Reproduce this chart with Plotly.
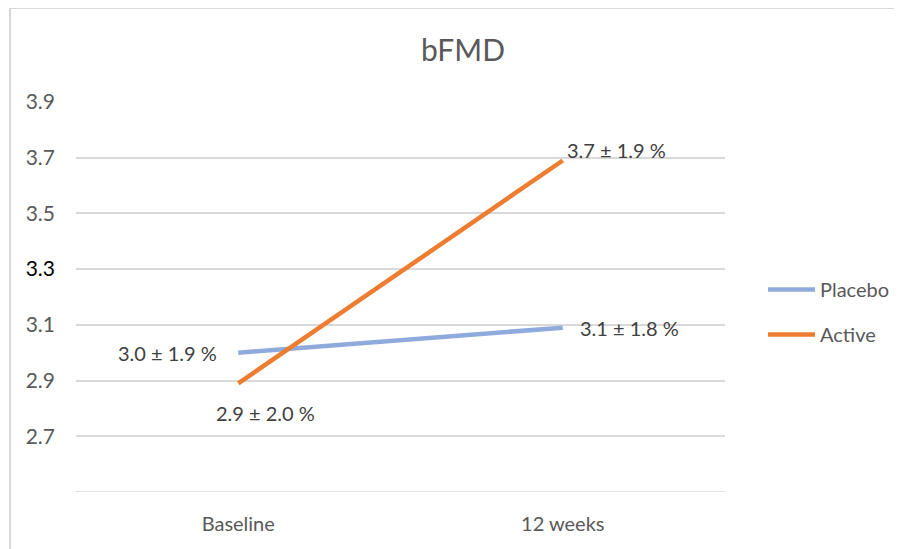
import plotly.graph_objects as go

categories = ["Baseline", "12 weeks"]
placebo = [3.0, 3.09]
active = [2.89, 3.69]
placebo_labels = ["3.0 ± 1.9 %", "3.1 ± 1.8 %"]
active_labels = ["2.9 ± 2.0 %", "3.7 ± 1.9 %"]
ytick_vals = [2.7, 2.9, 3.1, 3.3, 3.5, 3.7, 3.9]
ytick_text = ["2.7", "2.9", "3.1", "<span style='color:#000000'>3.3</span>", "3.5", "3.7", "3.9"]

FONT = "Lato"
GRAY = "#595959"
OFF = 8  # page body margin

PL, PR, PT, PB = 76, 725, 102, 492
W, H = 902, 549
pw, ph = PR - PL, PB - PT

def px(xp):
    return (xp - PL) / pw

def py(yp):
    return (PB - yp) / ph

fig = go.Figure()
fig.add_trace(go.Scatter(x=categories, y=placebo, mode="lines", name="Placebo",
                         line=dict(color="#8faadc", width=4.5), legendgroup="a"))
fig.add_trace(go.Scatter(x=categories, y=active, mode="lines", name="Active",
                         line=dict(color="#ed7d31", width=4.5), legendgroup="b"))

ann = []
ann.append(dict(x=categories[0], y=placebo[0], text=placebo_labels[0], xanchor="right", yanchor="middle", xshift=-19, yshift=0))
ann.append(dict(x=categories[1], y=placebo[1], text=placebo_labels[1], xanchor="left", yanchor="middle", xshift=15, yshift=0))
ann.append(dict(x=categories[0], y=active[0], text=active_labels[0], xanchor="center", yanchor="middle", xshift=27, yshift=-30))
ann.append(dict(x=categories[1], y=active[1], text=active_labels[1], xanchor="left", yanchor="middle", xshift=2, yshift=11))
for a in ann:
    a.update(xref="x", yref="y", showarrow=False, font=dict(family=FONT, size=20, color="#404040"))

fig.update_layout(
    width=W, height=H,
    margin=dict(l=PL - OFF, r=W - (PR - OFF), t=PT - OFF, b=H - (PB - OFF)),
    paper_bgcolor="white", plot_bgcolor="white",
    font=dict(family=FONT, size=20, color=GRAY),
    title=dict(text="bFMD", x=(463 - OFF) / W, xanchor="center", y=1 - (50 - OFF) / H, yanchor="middle",
               font=dict(family=FONT, size=30, color=GRAY)),
    showlegend=True,
    legend=dict(x=px(763), xanchor="left", y=py(312), yanchor="middle",
                font=dict(family=FONT, size=20, color=GRAY),
                traceorder="grouped", tracegroupgap=16, itemwidth=47,
                bgcolor="rgba(0,0,0,0)"),
    annotations=ann,
    shapes=[
        dict(type="line", xref="paper", yref="paper", x0=px(10), x1=px(920),
             y0=py(8), y1=py(8), line=dict(color="#d9d9d9", width=2)),
        dict(type="line", xref="paper", yref="paper", x0=px(10), x1=px(10),
             y0=py(8), y1=py(570), line=dict(color="#d9d9d9", width=2)),
    ],
)
fig.update_xaxes(type="category", range=[-0.5, 1.5], showgrid=False, zeroline=False, showline=False,
                 ticks="", ticklabelstandoff=18, tickfont=dict(family=FONT, size=20, color=GRAY))
fig.update_yaxes(range=[2.5, 3.9], tickvals=ytick_vals, ticktext=ytick_text,
                 showgrid=True, gridcolor="#d9d9d9", gridwidth=1.5, zeroline=False,
                 showline=False, ticks="", ticklabelstandoff=20,
                 tickfont=dict(family=FONT, size=21, color=GRAY))
fig.add_shape(type="line", xref="paper", yref="y", x0=0, x1=1, y0=2.5, y1=2.5,
              line=dict(color="#d9d9d9", width=1.5), layer="below")

fig.write_html("out.html")
